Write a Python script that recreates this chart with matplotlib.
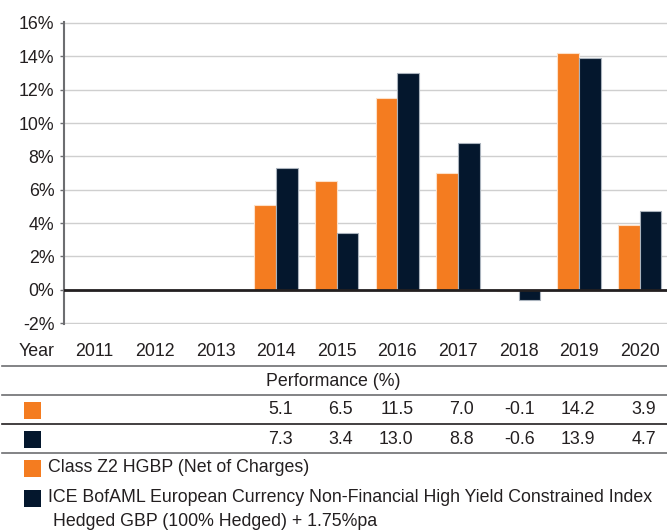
import matplotlib
matplotlib.use("Agg")
import matplotlib.pyplot as plt
import matplotlib.transforms as mtransforms
from matplotlib.patches import Rectangle
from matplotlib.lines import Line2D
import numpy as np

years = ["2011", "2012", "2013", "2014", "2015", "2016", "2017", "2018", "2019", "2020"]
class_z2 = [None, None, None, 5.1, 6.5, 11.5, 7.0, -0.1, 14.2, 3.9]
index_bm = [None, None, None, 7.3, 3.4, 13.0, 8.8, -0.6, 13.9, 4.7]
yticks = [-2, 0, 2, 4, 6, 8, 10, 12, 14, 16]
series_names = ["Class Z2 HGBP (Net of Charges)",
                "ICE BofAML European Currency Non-Financial High Yield Constrained Index\n  Hedged GBP (100% Hedged) + 1.75%pa"]

ORANGE = "#F47C20"
NAVY = "#04172D"
TXT = "#231f20"
GRID = "#cfcfcf"
SPINE = "#6d6e71"

plt.rcParams['font.family'] = ['Liberation Sans', 'DejaVu Sans']
FS = 12.8

W, H = 667, 531
fig = plt.figure(figsize=(W / 100, H / 100), dpi=100)

def fx(px):
    return px / W

def fy(py):
    return 1 - py / H

ax_left, ax_right, ax_top, ax_bot = 64, 670, 22, 324
ax = fig.add_axes([fx(ax_left), fy(ax_bot), (ax_right - ax_left) / W, (ax_bot - ax_top) / H])

x = np.arange(len(years))
v1 = np.array([np.nan if v is None else v for v in class_z2])
v2 = np.array([np.nan if v is None else v for v in index_bm])
bw = 0.355
ax.bar(x - 0.18, v1, width=bw, color=ORANGE, edgecolor="#fde0c8", linewidth=0.8, zorder=3)
ax.bar(x + 0.18, v2, width=bw, color=NAVY, edgecolor="#aab3bd", linewidth=0.8, zorder=3)

ax.set_xlim(-0.5, len(years) - 0.5)
ax.set_ylim(-2.06, 16.06)
ax.set_yticks(yticks)
ax.set_yticklabels([f"{t}%" for t in yticks], fontsize=FS, color=TXT)
ax.set_xticks([])
ax.yaxis.grid(True, color=GRID, linewidth=1.0, zorder=0)
ax.set_axisbelow(True)
ax.axhline(0, color=TXT, linewidth=2.0, zorder=4)
for s in ["top", "right", "bottom"]:
    ax.spines[s].set_visible(False)
ax.spines["left"].set_color(SPINE)
ax.spines["left"].set_linewidth(1.5)
ax.tick_params(axis="y", length=3, color=SPINE, width=1, pad=4)

blend = mtransforms.blended_transform_factory(ax.transData, fig.transFigure)

# Year row
fig.text(fx(37), fy(352), "Year", ha="center", va="center", fontsize=FS, color=TXT)
for i, yr in enumerate(years):
    fig.text(i, fy(352), yr, ha="center", va="center", fontsize=FS, color=TXT, transform=blend)

# Table lines
for py, col in [(366, SPINE), (395, SPINE), (424, TXT), (453, SPINE)]:
    fig.add_artist(Line2D([fx(2), 1.0], [fy(py), fy(py)], color=col, linewidth=1.2,
                          transform=fig.transFigure))

fig.text(0.5, fy(381), "Performance (%)", ha="center", va="center", fontsize=FS, color=TXT)

# Table rows
for py, vals, col in [(410, class_z2, ORANGE), (439, index_bm, NAVY)]:
    fig.add_artist(Rectangle((fx(24), fy(py + 8.5)), 17 / W, 17 / H, facecolor=col,
                             edgecolor="none", transform=fig.transFigure))
    for i, v in enumerate(vals):
        if v is not None:
            fig.text(i + 0.27, fy(py), f"{v:.1f}", ha="right", va="center", fontsize=FS,
                     color=TXT, transform=blend)

# Legend
fig.add_artist(Rectangle((fx(24), fy(468 + 8.5)), 17 / W, 17 / H, facecolor=ORANGE,
                         edgecolor="none", transform=fig.transFigure))
fig.text(fx(48), fy(468), series_names[0], ha="left", va="center", fontsize=FS, color=TXT)
fig.add_artist(Rectangle((fx(24), fy(498 + 8.5)), 17 / W, 17 / H, facecolor=NAVY,
                         edgecolor="none", transform=fig.transFigure))
l1, l2 = series_names[1].split("\n")
fig.text(fx(48), fy(498), l1, ha="left", va="center", fontsize=FS, color=TXT)
fig.text(fx(53), fy(522), l2.strip(), ha="left", va="center", fontsize=FS, color=TXT)

fig.savefig("out.png", dpi=100)
